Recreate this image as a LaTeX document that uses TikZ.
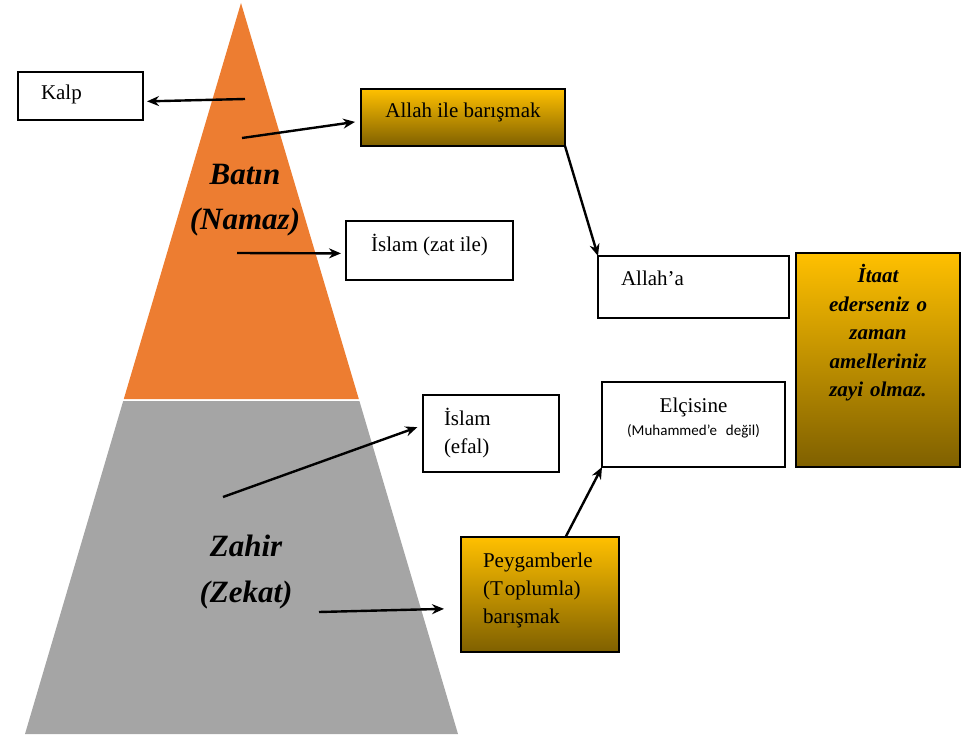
\documentclass[tikz,border=0pt]{standalone}
\usepackage{fontspec}
\setmainfont{Liberation Serif}
\newfontfamily\calibrifont{Carlito}
\usetikzlibrary{arrows.meta}
\definecolor{batinorange}{RGB}{237,125,49}
\definecolor{zahirgray}{RGB}{165,165,165}
\definecolor{goldtop}{RGB}{255,192,0}
\definecolor{goldbottom}{RGB}{127,96,0}
\begin{document}
\begin{tikzpicture}[x=1pt,y=-1pt,inner sep=0pt,outer sep=0pt,line width=2.4pt,
>={Stealth[length=12pt,width=10pt]},
kutu/.style={draw,rectangle,line width=1.6pt,inner ysep=0pt,font=\fontsize{21}{28}\selectfont},
altin/.style={kutu,top color=goldtop,bottom color=goldbottom},
katman/.style={font=\bfseries\itshape\fontsize{31}{45}\selectfont,text width=160pt,align=center,anchor=base}]
\useasboundingbox (0,0) rectangle (966,735);
% piramit
\fill[batinorange] (241,3) -- (358.8,399) -- (123.8,399) -- cycle;
\fill[zahirgray] (123.2,401) -- (359.4,401) -- (458,734) -- (25,734) -- cycle;
\draw (245,185) node[katman] (batin) {Batın\\(Namaz)};
\draw (246,556) node[katman,font=\bfseries\itshape\fontsize{31}{46}\selectfont] (zahir) {Zahir\\(Zekat)};
% kutular
\draw (80.5,96) node[kutu,inner xsep=23pt,text width=79pt,align=left,text height=28pt,text depth=20pt] (kalp) {Kalp};
\draw (463,117.5) node[altin,minimum width=204pt,text height=29pt,text depth=28pt] (allahbaris) {Allah ile barışmak};
\draw (429.5,250.5) node[kutu,minimum width=167pt,text height=31pt,text depth=28pt] (islamzat) {İslam (zat ile)};
\draw (693.5,287) node[kutu,inner xsep=23pt,text width=145pt,align=left,text height=29pt,text depth=33pt] (allaha) {Allah’a};
\draw (878,360) node[altin,text width=164pt,align=center,text height=30pt,text depth=184pt,font=\bfseries\itshape\fontsize{21}{28.5}\selectfont] (itaat) {İtaat\\ederseniz o\\zaman\\amelleriniz\\zayi olmaz.};
\draw (693.5,424.5) node[kutu,text width=183pt,align=center,text height=30pt,text depth=55pt] (elcisine) {Elçisine\\[-5pt]{\calibrifont\fontsize{15}{18}\selectfont (Muhammed’e\hspace{9pt}değil)}};
\draw (491,433.5) node[kutu,inner xsep=21pt,text width=94pt,align=left,text height=30pt,text depth=47pt] (islamefal) {İslam\\(efal)};
\draw (540,594.5) node[altin,inner xsep=22pt,text width=114pt,align=left,text height=30pt,text depth=85pt] (pey) {Peygamberle\\(T\kern2pt oplumla)\\barışmak};
% okların uçları
\coordinate (kalpuc) at (245,99);
\coordinate (barisuc) at (242,138);
\coordinate (zatuc) at (237,253);
\coordinate (efaluc) at (223,497);
\coordinate (toplumuc) at (319,612);
\draw[->,shorten >=4pt] (kalpuc) -- (kalp.-5);
\draw[->,shorten >=6pt] (barisuc) -- (allahbaris.182);
\draw[->,shorten >=5pt] (zatuc) -- (islamzat.182);
\draw[->] (allahbaris.south east) -- (allaha.north west);
\draw[->,shorten >=6pt] (efaluc) -- (islamefal.173);
\draw[->,shorten >=17pt] (toplumuc) -- (pey.190);
\draw[->] (pey.66) -- (elcisine.south west);
\end{tikzpicture}
\end{document}
